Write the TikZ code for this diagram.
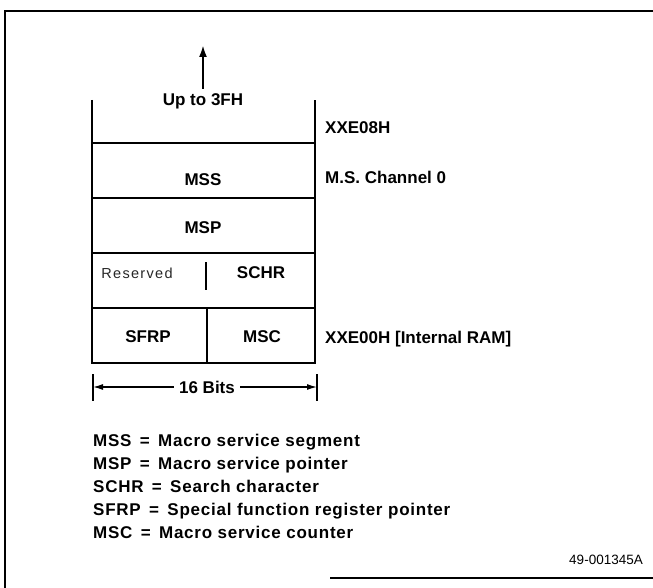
\documentclass[tikz,border=0pt]{standalone}
\usepackage{fontspec}
\setmainfont{Liberation Sans}
\usetikzlibrary{arrows.meta}
\begin{document}
\begin{tikzpicture}[x=1pt,y=-1pt,
  lbl/.style={font=\bfseries\fontsize{17}{20}\selectfont, inner sep=0pt},
  legend/.style={font=\bfseries\fontsize{17}{20}\selectfont\addfontfeatures{LetterSpace=4.5}, inner sep=0pt, anchor=base west},
  thin lbl/.style={font=\fontsize{13.5}{16}\selectfont, inner sep=0pt},
  boxline/.style={line width=2.5pt},
  frameline/.style={line width=1.6pt},
  tip/.style={-{Latex[length=12pt,width=8pt]}, line width=2.2pt},
  dimline/.style={-{Latex[length=10pt,width=6pt]}, line width=1.3pt}]
\useasboundingbox (0,0) rectangle (653,588);
% outer frame
\draw[frameline] (5,588) -- (5,11) -- (653,11);
\draw[frameline] (330,578) -- (653,578);
% memory block
\draw[boxline] (92,100) -- (92,363) -- (315,363) -- (315,100);
\foreach \yy in {143,198,253,308} \draw[boxline] (92,\yy) -- (315,\yy);
\draw[boxline] (207,308) -- (207,363);
\draw[line width=1.8pt] (206,262) -- (206,290);
% cell texts
\node[lbl, anchor=base] (up) at (203,106) {Up to 3FH};
\coordinate (uptip) at (203,45);
\coordinate (upbase) at (203,89);
\draw[tip] (upbase) -- (uptip);
\node[lbl] (mss) at (203,180) {MSS};
\node[lbl] (msp) at (203,228) {MSP};
\node[font=\fontsize{14.5}{17}\selectfont\addfontfeatures{LetterSpace=9}, inner sep=0pt, text=black!85] (res) at (137,273) {Reserved};
\node[lbl] (schr) at (261,273) {SCHR};
\node[lbl] (sfrp) at (148,337) {SFRP};
\node[lbl] (msc) at (262,337) {MSC};
% right side labels
\node[lbl, anchor=west] (a08) at (325,128) {XXE08H};
\node[lbl, anchor=west] (ch0) at (325,177) {M.S. Channel 0};
\node[lbl, anchor=base west] (a00) at (325,343) {XXE00H [Internal RAM]};
% dimension
\draw[line width=1.3pt] (93,374) -- (93,401);
\draw[line width=1.3pt] (317,374) -- (317,401);
\coordinate (dl) at (93,387);
\coordinate (dr) at (317,387);
\node[lbl, fill=white, inner xsep=5pt] (bits) at (207,387) {16 Bits};
\draw[dimline] (bits.west) -- (dl);
\draw[dimline] (bits.east) -- (dr);
% legend
\node[legend] (l1) at (93,446) {MSS\, =\, Macro service segment};
\node[legend] (l2) at (93,469) {MSP\, =\, Macro service pointer};
\node[legend] (l3) at (93,492) {SCHR\, =\, Search character};
\node[legend] (l4) at (93,515) {SFRP\, =\, Special function register pointer};
\node[legend] (l5) at (93,538) {MSC\, =\, Macro service counter};
% figure number
\node[thin lbl, anchor=east] (fig) at (643,560) {49-001345A};
\end{tikzpicture}
\end{document}
